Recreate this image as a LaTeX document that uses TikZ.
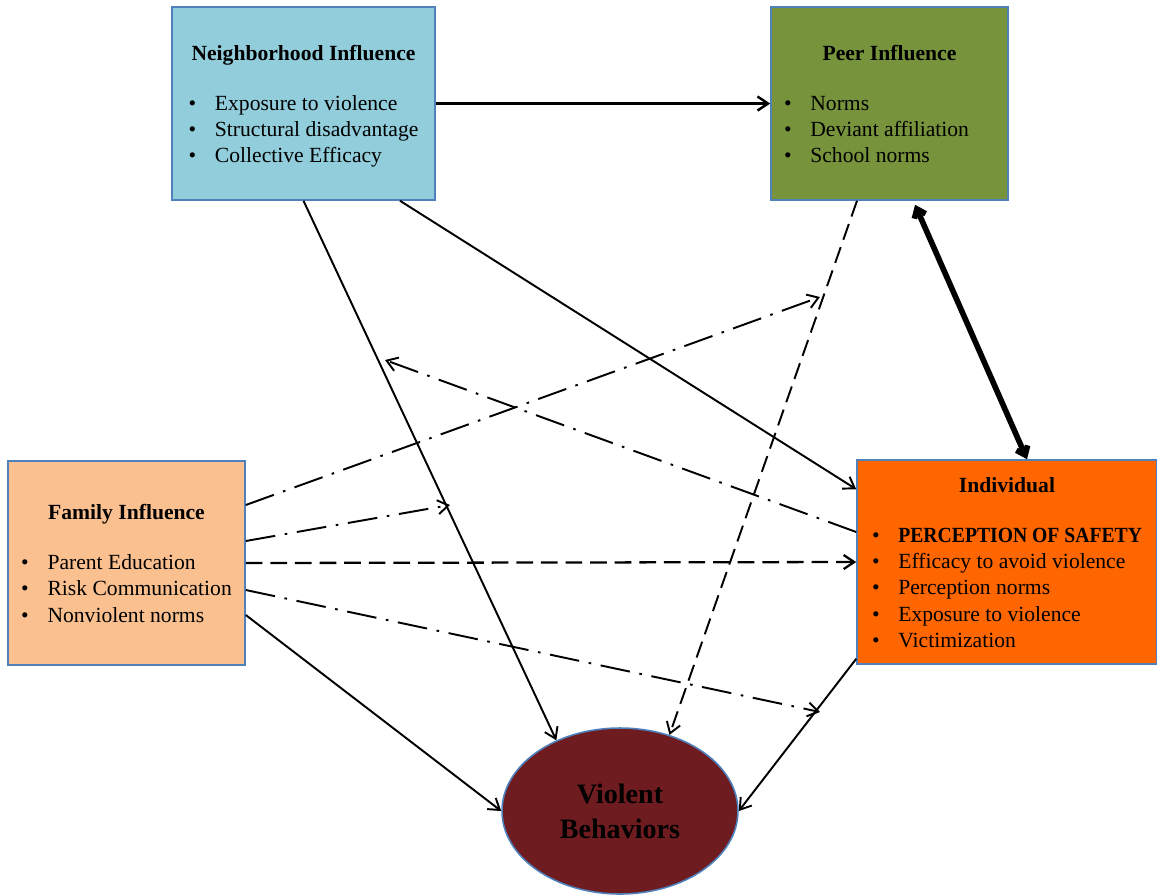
\documentclass[tikz,border=0pt]{standalone}
\usepackage{fontspec}
\setmainfont{Liberation Serif}
\usetikzlibrary{shapes.geometric,arrows.meta,calc}
\definecolor{nbcol}{HTML}{92CDDC}
\definecolor{pecol}{HTML}{77933C}
\definecolor{facol}{HTML}{FAC090}
\definecolor{incol}{HTML}{FF6600}
\definecolor{vbcol}{HTML}{6E1C20}
\definecolor{edgecol}{HTML}{4F81BD}
\newcommand{\itm}[1]{\makebox[15pt][l]{\textbullet}#1}
\newcommand{\ttl}[1]{\rule{0pt}{1.1em}\textbf{#1}}
\tikzset{
  box/.style={draw=edgecol, line width=0.9pt, rectangle, align=center, inner sep=0pt,
    font=\fontsize{12.3}{14.9}\selectfont},
  ln/.style={line width=1.1pt, -{Straight Barb[length=6pt,width=8pt]}},
  dd/.style={ln, dash pattern=on 17pt off 5.5pt on 1.5pt off 5.5pt},
  ds/.style={ln, dash pattern=on 9.5pt off 4.5pt},
}
\begin{document}
\begin{tikzpicture}[x=0.02cm,y=-0.02cm]
	\useasboundingbox (0,0) rectangle (1157,894);
	\node[box, fill=nbcol, minimum width=5.26cm, minimum height=3.86cm] (NB) at (303.5,103.5)
		{\ttl{Neighborhood Influence}\\[13.4pt]\begin{tabular}[t]{@{}l@{}}\itm{Exposure to violence}\\ \itm{Structural disadvantage}\\ \itm{Collective Efficacy}\end{tabular}};
	\node[box, fill=pecol, minimum width=4.74cm, minimum height=3.86cm] (PE) at (889.5,103.5)
		{\ttl{Peer Influence}\\[13.4pt]\begin{tabular}[t]{@{}l@{}}\itm{Norms}\\ \itm{Deviant affiliation}\\ \itm{School norms}\end{tabular}\hspace*{0.52cm}};
	\node[box, fill=facol, minimum width=4.74cm, minimum height=4.08cm] (FA) at (126.5,563)
		{\ttl{Family Influence}\\[13.4pt]\begin{tabular}[t]{@{}l@{}}\itm{Parent Education}\\ \itm{Risk Communication}\\ \itm{Nonviolent norms}\end{tabular}};
	\node[box, fill=incol, minimum width=6cm, minimum height=4.08cm] (IN) at (1007,562)
		{\ttl{Individual}\\[13.4pt]\begin{tabular}[t]{@{}l@{}}\itm{\scalebox{0.91}[1]{\textbf{PERCEPTION OF SAFETY}}}\\ \itm{Efficacy to avoid violence}\\ \itm{Perception norms}\\ \itm{Exposure to violence}\\ \itm{Victimization}\end{tabular}};
	\node[draw=edgecol, line width=0.9pt, ellipse, fill=vbcol, inner sep=0pt, minimum width=4.72cm, minimum height=3.32cm,
		align=center, font=\fontsize{16}{19.8}\selectfont\bfseries] (VB) at (620,811) {Violent\\Behaviors};

	\coordinate (FP) at (820,297);
	\coordinate (FN) at (450,505);
	\coordinate (FI) at (820,712);
	\coordinate (IB) at (385,360);

	\draw[ln, line width=1.4pt] (NB.east)--(PE.west);
	\draw[ln] (NB.south)--(VB.132);
	\draw[ln] ($(NB.south)+(96.5,0)$)--($(IN.north west)+(0,30)$);
	\draw[ds] ($(PE.south)+(-32.5,0)$)--(VB.57);
	\draw[line width=3.2pt, {Straight Barb[length=4.5pt,width=7pt]}-{Straight Barb[length=4.5pt,width=7pt]}]
		($(PE.south)+(25.5,4)$)--($(IN.north)+(20,0)$);
	\draw[dd] ($(FA.east)+(0,-58)$)--(FP);
	\draw[dd] ($(FA.east)+(0,-22)$)--(FN);
	\draw[ds, line width=1.3pt] (FA.east)--(IN.west);
	\draw[dd] ($(FA.east)+(0,27)$)--(FI);
	\draw[ln] ($(FA.east)+(0,52)$)--(VB.west);
	\draw[dd] ($(IN.west)+(0,-30)$)--(IB);
	\draw[ln] ($(IN.south west)+(0,-6)$)--(VB.east);
\end{tikzpicture}
\end{document}
